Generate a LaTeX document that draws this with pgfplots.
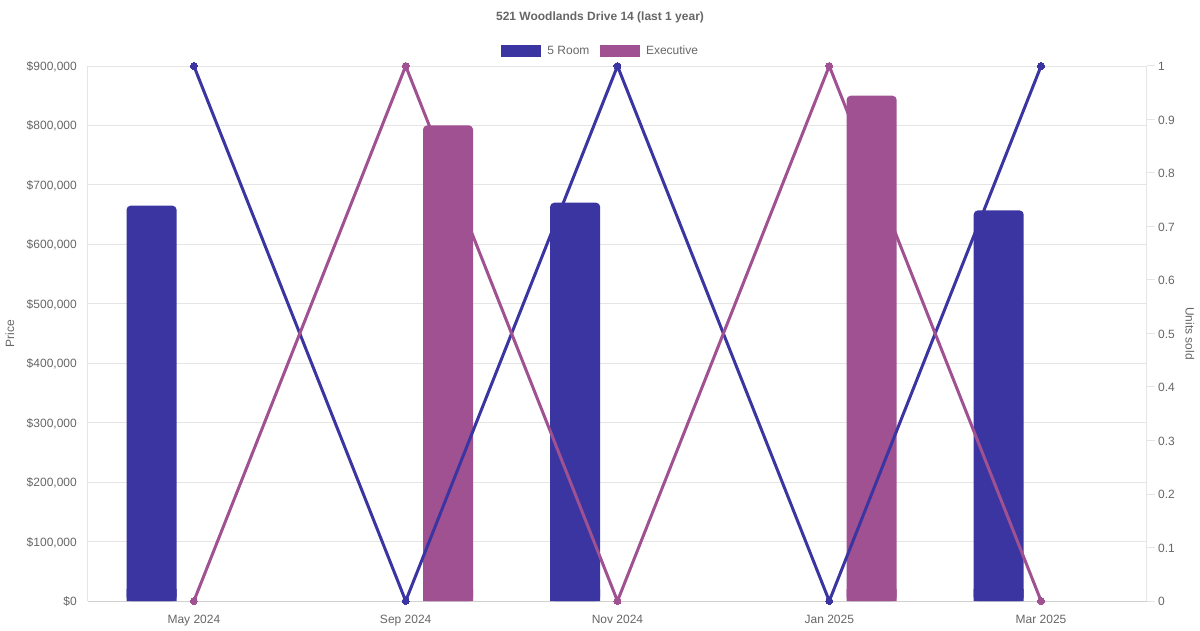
\documentclass[border=0pt]{standalone}
\usepackage{pgfplots}
\usepackage{pgfplotstable}
\pgfplotsset{compat=1.18}
\usepackage{fontspec}
\setmainfont{Liberation Sans}
\definecolor{room}{HTML}{3A35A0}
\definecolor{execc}{HTML}{A05192}
\definecolor{txt}{HTML}{666666}
\definecolor{gridc}{HTML}{E5E5E5}
\definecolor{axisc}{HTML}{D0D0D0}
\newcommand{\f}{\fontsize{12}{14}\selectfont}
% prices (bars)
\pgfplotstableread{
x price
0 665000
2 670000
4 657000
}\roomprice
\pgfplotstableread{
x price
1 800000
3 850000
}\execprice
% units sold (lines)
\pgfplotstableread{
x units
0 1
1 0
2 1
3 0
4 1
}\roomunits
\pgfplotstableread{
x units
0 0
1 1
2 0
3 1
4 0
}\execunits
\begin{document}
\begin{tikzpicture}[x=1pt,y=1pt]
\path[use as bounding box] (0,0) rectangle (1200,630);
\begin{axis}[
  at={(88pt,29pt)}, anchor=south west,
  scale only axis, width=1059pt, height=535pt,
  xmin=-0.5, xmax=4.5, ymin=0, ymax=900000,
  axis x line*=bottom, axis y line*=left,
  x axis line style={draw=axisc, line width=1pt, -},
  y axis line style={draw=gridc, line width=1pt, -},
  xtick={0,1,2,3,4},
  xticklabels={May 2024,Sep 2024,Nov 2024,Jan 2025,Mar 2025},
  ytick={0,100000,200000,300000,400000,500000,600000,700000,800000,900000},
  yticklabels={\$0,{\$100,000},{\$200,000},{\$300,000},{\$400,000},{\$500,000},{\$600,000},{\$700,000},{\$800,000},{\$900,000}},
  scaled y ticks=false,
  major tick length=0pt,
  tick style={draw=none},
  ymajorgrids, grid style={draw=gridc, line width=1pt},
  tick label style={font=\f, text=txt, inner sep=0pt},
  xticklabel style={anchor=north, yshift=-14pt},
  yticklabel style={anchor=east, xshift=-11pt, yshift=-0.8pt},
  ylabel={Price},
  every axis y label/.style={at={(rel axis cs:-0.0737,0.5)}, rotate=90, anchor=center, font=\f, text=txt},
  title={521 Woodlands Drive 14 (last 1 year)},
  every axis title/.style={at={(rel axis cs:0.4835,1.0906)}, anchor=center, font=\bfseries\f, text=txt},
  legend columns=2,
  legend style={at={(rel axis cs:0.4861,1.0280)}, anchor=center, draw=none, fill=none, font=\f, text=txt,
    inner sep=0pt, /tikz/every even column/.append style={column sep=4.5pt},
    nodes={inner xsep=6pt, inner ysep=0pt}},
  legend image code/.code={\fill[#1, rounded corners=0pt] (0pt,-6pt) rectangle (40pt,6pt);},
]
\addplot[ybar, bar width=50pt, bar shift=-42.35pt, fill=room, draw=none, rounded corners=4pt]
  table[x=x, y=price] {\roomprice};
\addlegendentry{5 Room}
\addplot[ybar, bar width=50pt, bar shift=42.35pt, fill=execc, draw=none, rounded corners=4pt]
  table[x=x, y=price] {\execprice};
\addlegendentry{Executive}
\end{axis}
% same bars again, square-cornered, clipped to a thin strip at the base so only the tops stay rounded
\begin{axis}[
  at={(88pt,29pt)}, anchor=south west,
  scale only axis, width=1059pt, height=11.8889pt,
  xmin=-0.5, xmax=4.5, ymin=0, ymax=20000,
  hide axis, clip=true,
]
\addplot[ybar, bar width=50pt, bar shift=-42.35pt, fill=room, draw=none]
  table[x=x, y=price] {\roomprice};
\addplot[ybar, bar width=50pt, bar shift=42.35pt, fill=execc, draw=none]
  table[x=x, y=price] {\execprice};
\end{axis}
\begin{axis}[
  at={(88pt,29pt)}, anchor=south west,
  scale only axis, width=1059pt, height=535pt,
  xmin=-0.5, xmax=4.5, ymin=0, ymax=1,
  clip=false,
  axis x line=none, axis y line*=right,
  y axis line style={draw=gridc, line width=1pt, -},
  ytick={0,0.1,0.2,0.3,0.4,0.5,0.6,0.7,0.8,0.9,1},
  yticklabels={0,0.1,0.2,0.3,0.4,0.5,0.6,0.7,0.8,0.9,1},
  tick align=outside, major tick length=8pt,
  ytick style={draw=gridc, line width=1pt},
  tick label style={font=\f, text=txt, inner sep=0pt},
  yticklabel style={anchor=west, xshift=3pt, yshift=-0.8pt},
  ylabel={Units sold},
  every axis y label/.style={at={(rel axis cs:1.0406,0.5)}, rotate=-90, anchor=center, font=\f, text=txt},
]
\addplot[room, line width=3pt, mark=*, mark size=3.5pt, mark options={solid, line width=0pt}]
  table[x=x, y=units] {\roomunits};
\addplot[execc, line width=3pt, mark=*, mark size=3.5pt, mark options={solid, line width=0pt}]
  table[x=x, y=units] {\execunits};
\end{axis}
\end{tikzpicture}
\end{document}
